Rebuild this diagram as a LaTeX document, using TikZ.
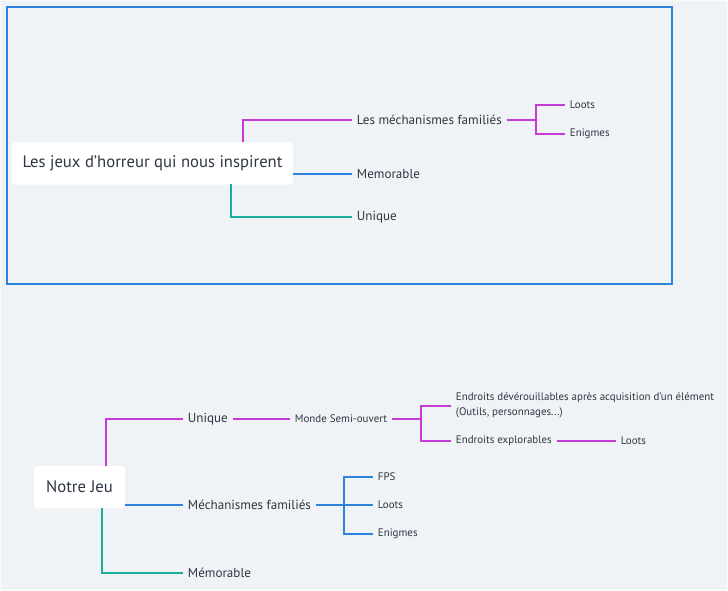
\documentclass[tikz,border=0pt]{standalone}
\usepackage{fontspec}
\setmainfont{PT Sans}
\usetikzlibrary{calc}

\definecolor{bgcol}{HTML}{F0F3F6}
\definecolor{edgecol}{HTML}{F8FAFB}
\definecolor{txtcol}{HTML}{2E3644}
\definecolor{magcol}{HTML}{C43BD6}
\definecolor{blucol}{HTML}{2D84DC}
\definecolor{grncol}{HTML}{1AAE9C}

\newcommand{\rootsize}{\fontsize{12.5}{15}\selectfont}
\newcommand{\kidsize}{\fontsize{9.8}{11}\selectfont}
\newcommand{\leafsize}{\fontsize{8.2}{11.3}\selectfont}

\begin{document}
\begin{tikzpicture}[x=0.75pt,y=-0.75pt,
    rootbox/.style={draw=none,fill=white,rounded corners=2.5pt,text=txtcol,
        font=\rootsize,inner sep=0pt},
    kid/.style={anchor=west,text=txtcol,font=\kidsize,inner xsep=3.5pt,inner ysep=1pt},
    leaf/.style={anchor=west,text=txtcol,font=\leafsize,inner xsep=3.5pt,inner ysep=1pt},
    mag/.style={draw=magcol,line width=1.5pt},
    blu/.style={draw=blucol,line width=1.5pt},
    grn/.style={draw=grncol,line width=1.5pt}]
    %% background
    \fill[bgcol] (0,0) rectangle (728,590);
    \draw[edgecol,line width=0.75pt] (0.5,0.5) rectangle (727.5,589.5);
    \useasboundingbox (0,0) rectangle (728,590);

    %% frame round the first map
    \draw[blucol,line width=2pt] (7,7) rectangle (672,284);

    %% first map
    \node[rootbox,minimum width=281*0.75pt,minimum height=42*0.75pt] (troot) at (152.5,163.5)
        {Les jeux d'horreur qui nous inspirent};
    \node[kid] (tmeca) at (352,120) {Les méchanismes familiés};
    \node[leaf] (tloot) at (565,105) {Loots};
    \node[leaf] (tenig) at (565,134) {Enigmes};
    \node[kid] (tmemo) at (352,174) {Memorable};
    \node[kid] (tuniq) at (352,217) {Unique};

    \coordinate (tb1) at (243,142);
    \coordinate (tb3) at (231,184);
    \coordinate (tf1) at (536,120);

    \draw[mag] (tb1) |- (tmeca.west);
    \draw[mag] (tmeca.east) -- (tf1) |- (tloot.west);
    \draw[mag] (tf1) |- (tenig.west);
    \draw[blu] (troot.east |- tmemo) -- (tmemo.west);
    \draw[grn] (tb3) |- (tuniq.west);

    %% second map
    \node[rootbox,minimum width=91*0.75pt,minimum height=42*0.75pt] (broot) at (79.5,487)
        {Notre Jeu};
    \node[kid] (buniq) at (183,419) {Unique};
    \node[leaf] (bmonde) at (290,419) {Monde Semi-ouvert};
    \node[leaf,align=left] (bunlock) at (451,405.5)
        {Endroits dévérouillables après acquisition d'un élément\\(Outils, personnages...)};
    \node[leaf] (bexpl) at (451,441) {Endroits explorables};
    \node[leaf] (bloot3) at (616,441) {Loots};
    \node[kid] (bmeca) at (183,505) {Méchanismes familiés};
    \node[leaf] (bfps) at (373,477) {FPS};
    \node[leaf] (bloot2) at (373,505) {Loots};
    \node[leaf] (benig2) at (373,534) {Enigmes};
    \node[kid] (bmemo) at (183,573) {Mémorable};

    \coordinate (bb1) at (106,466);
    \coordinate (bb3) at (102,508);
    \coordinate (bf1) at (421,419);
    \coordinate (bf2) at (344,505);

    \draw[mag] (bb1) |- (buniq.west);
    \draw[mag] (buniq.east) -- (bmonde.west);
    \draw[mag] (bmonde.east) -- (bf1) |- (bunlock.west);
    \draw[mag] (bf1) |- (bexpl.west);
    \draw[mag] (bexpl.east) -- (bloot3.west);
    \draw[blu] (broot.east |- bmeca) -- (bmeca.west);
    \draw[blu] (bmeca.east) -- (bf2) |- (bfps.west);
    \draw[blu] (bf2) -- (bloot2.west);
    \draw[blu] (bf2) |- (benig2.west);
    \draw[grn] (bb3) |- (bmemo.west);
\end{tikzpicture}
\end{document}
